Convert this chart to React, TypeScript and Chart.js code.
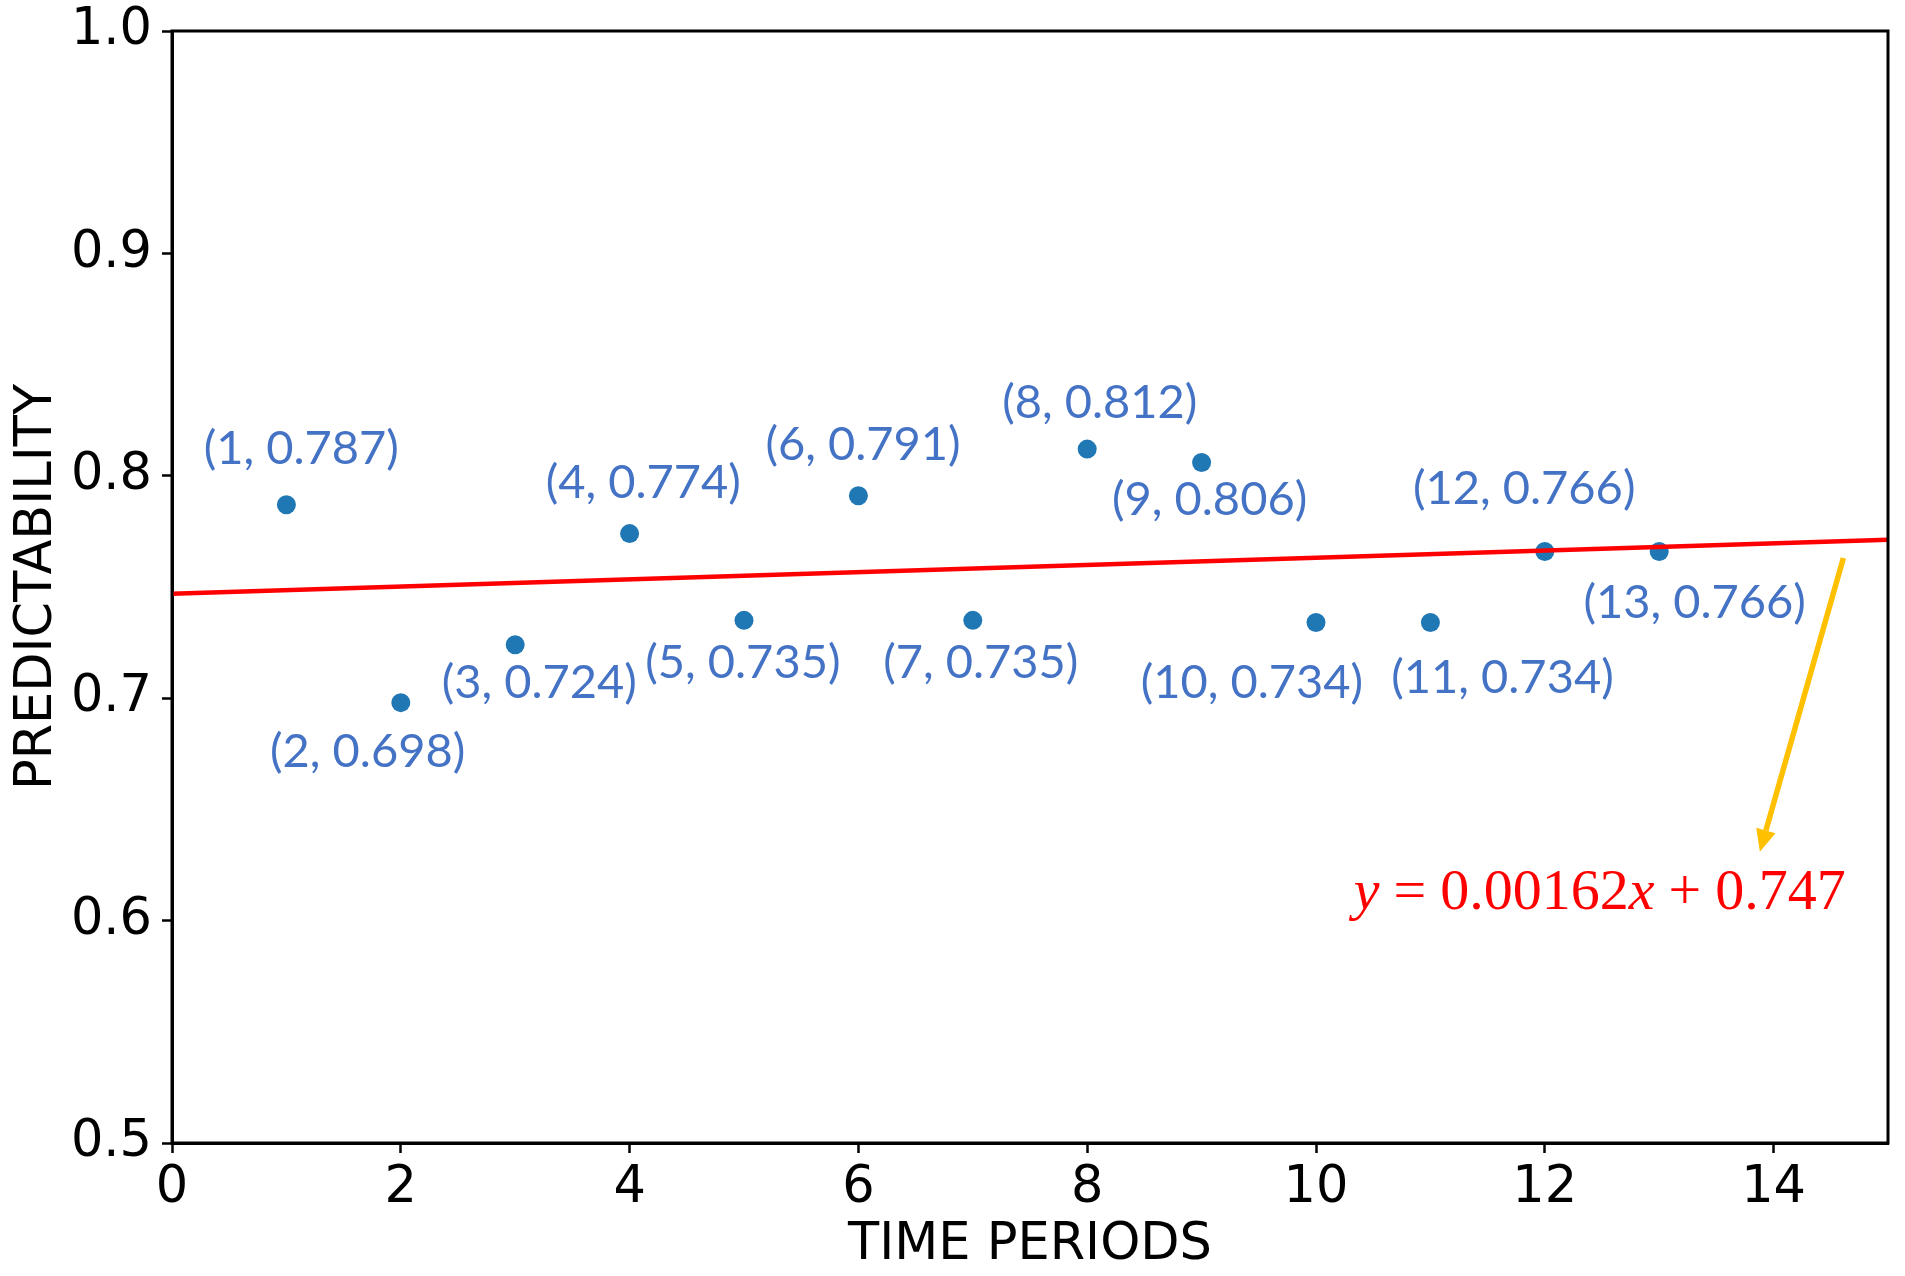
import React, { useEffect, useRef } from "react";
import { Chart, registerables } from "chart.js";

Chart.register(...registerables);

// ---- data ----
const periods = [1, 2, 3, 4, 5, 6, 7, 8, 9, 10, 11, 12, 13];
const predictability = [0.787, 0.698, 0.724, 0.774, 0.735, 0.791, 0.735, 0.812, 0.806, 0.734, 0.734, 0.766, 0.766];
// label anchor positions (data units, centre of text)
const labelX = [1.13, 1.71, 3.21, 4.12, 4.99, 6.04, 7.07, 8.11, 9.07, 9.44, 11.63, 11.82, 13.31];
const labelY = [0.812, 0.676, 0.707, 0.797, 0.716, 0.814, 0.716, 0.833, 0.789, 0.707, 0.709, 0.794, 0.743];
const fitSlope = 0.00162;
const fitIntercept = 0.747;
const fitXRange = [0, 15];
const xTicks = [0, 2, 4, 6, 8, 10, 12, 14];
const yTicks = [0.5, 0.6, 0.7, 0.8, 0.9, 1.0];
const xTitle = "TIME PERIODS";
const yTitle = "PREDICTABILITY";
const arrowFrom = [14.61, 0.763];
const arrowTo = [13.88, 0.631];
const equationAt = [12.48, 0.612];

export default function App() {
  const ref = useRef<HTMLCanvasElement | null>(null);

  useEffect(() => {
    const canvas = ref.current;
    if (!canvas) return;

    const annotations = {
      id: "annotations",
      afterDraw(chart: any) {
        const ctx = chart.ctx;
        const xs = chart.scales.x;
        const ys = chart.scales.y;
        const area = chart.chartArea;
        ctx.save();
        // frame
        ctx.strokeStyle = "#000";
        ctx.lineWidth = 3;
        ctx.strokeRect(area.left, area.top, area.right - area.left, area.bottom - area.top);

        // point labels
        ctx.fillStyle = "#4472C4";
        ctx.font = "47px Lato";
        ctx.textAlign = "center";
        ctx.textBaseline = "middle";
        periods.forEach((p, i) => {
          const txt = `(${p}, ${predictability[i].toFixed(3)})`;
          ctx.fillText(txt, xs.getPixelForValue(labelX[i]), ys.getPixelForValue(labelY[i]));
        });

        // arrow
        const x1 = xs.getPixelForValue(arrowFrom[0]);
        const y1 = ys.getPixelForValue(arrowFrom[1]);
        const x2 = xs.getPixelForValue(arrowTo[0]);
        const y2 = ys.getPixelForValue(arrowTo[1]);
        const ang = Math.atan2(y2 - y1, x2 - x1);
        const headLen = 22;
        const headW = 10;
        const bx = x2 - headLen * Math.cos(ang);
        const by = y2 - headLen * Math.sin(ang);
        ctx.strokeStyle = "#FFC000";
        ctx.fillStyle = "#FFC000";
        ctx.lineWidth = 5.5;
        ctx.beginPath();
        ctx.moveTo(x1, y1);
        ctx.lineTo(bx, by);
        ctx.stroke();
        ctx.beginPath();
        ctx.moveTo(x2, y2);
        ctx.lineTo(bx + headW * Math.sin(ang), by - headW * Math.cos(ang));
        ctx.lineTo(bx - headW * Math.sin(ang), by + headW * Math.cos(ang));
        ctx.closePath();
        ctx.fill();

        // equation
        const size = 58;
        const gap = 14;
        const parts: [string, boolean][] = [
          ["y", true],
          ["=", false],
          ["0.00162", false],
          ["x", true],
          ["+", false],
          ["0.747", false],
        ];
        const gapsAfter = [gap, gap, 0, gap, gap, 0];
        const fontOf = (it: boolean) => `${it ? "italic " : ""}${size}px 'Liberation Serif'`;
        let total = 0;
        parts.forEach(([t, it], i) => {
          ctx.font = fontOf(it);
          total += ctx.measureText(t).width + gapsAfter[i];
        });
        let cx = xs.getPixelForValue(equationAt[0]) - total / 2;
        const cy = ys.getPixelForValue(equationAt[1]);
        ctx.fillStyle = "#FF0000";
        ctx.textAlign = "left";
        ctx.textBaseline = "middle";
        parts.forEach(([t, it], i) => {
          ctx.font = fontOf(it);
          ctx.fillText(t, cx, cy);
          cx += ctx.measureText(t).width + gapsAfter[i];
        });

        // axis titles
        ctx.fillStyle = "#000";
        ctx.font = "51px 'DejaVu Sans'";
        ctx.textAlign = "center";
        ctx.textBaseline = "middle";
        ctx.fillText(xTitle, (area.left + area.right) / 2, area.bottom + 103);
        ctx.save();
        ctx.translate(area.left - 134, (area.top + area.bottom) / 2);
        ctx.rotate(-Math.PI / 2);
        ctx.fillText(yTitle, 0, 0);
        ctx.restore();
        ctx.restore();
      },
    };

    const fitPoints = fitXRange.map((x) => ({ x, y: fitSlope * x + fitIntercept }));
    const points = periods.map((x, i) => ({ x, y: predictability[i] }));

    const axisCommon = {
      type: "linear" as const,
      grid: {
        display: true,
        drawOnChartArea: false,
        drawTicks: true,
        tickLength: 10,
        tickWidth: 2.5,
        tickColor: "#000",
        color: "#000",
      },
      border: { display: true, color: "#000", width: 3 },
    };

    const chart = new Chart(canvas, {
      type: "scatter",
      data: {
        datasets: [
          {
            type: "line",
            data: fitPoints,
            borderColor: "#FF0000",
            borderWidth: 4.5,
            pointRadius: 0,
            fill: false,
            order: 1,
          } as any,
          {
            type: "scatter",
            data: points,
            backgroundColor: "#1F77B4",
            borderColor: "#1F77B4",
            borderWidth: 0,
            pointRadius: 9.5,
            order: 2,
          },
        ],
      },
      options: {
        responsive: false,
        animation: false,
        devicePixelRatio: 1,
        layout: { padding: { top: 31, right: 17, left: 0, bottom: 0 } },
        plugins: { legend: { display: false }, tooltip: { enabled: false } },
        scales: {
          x: {
            ...axisCommon,
            min: fitXRange[0],
            max: fitXRange[1],
            afterBuildTicks: (s: any) => {
              s.ticks = xTicks.map((v) => ({ value: v }));
            },
            afterFit: (s: any) => {
              s.height = 133;
              s.paddingLeft = 0;
              s.paddingRight = 0;
            },
            ticks: {
              color: "#000",
              font: { family: "DejaVu Sans", size: 51 },
              padding: 5,
              maxRotation: 0,
              minRotation: 0,
              autoSkip: false,
              callback: (v: any) => String(v),
            },
          },
          y: {
            ...axisCommon,
            min: yTicks[0],
            max: yTicks[yTicks.length - 1],
            afterBuildTicks: (s: any) => {
              s.ticks = yTicks.map((v) => ({ value: v }));
            },
            afterFit: (s: any) => {
              s.width = 172;
              s.paddingTop = 0;
              s.paddingBottom = 0;
            },
            ticks: {
              color: "#000",
              font: { family: "DejaVu Sans", size: 51 },
              padding: 10,
              autoSkip: false,
              callback: (v: any) => Number(v).toFixed(1),
            },
          },
        },
      } as any,
      plugins: [annotations],
    });

    return () => chart.destroy();
  }, []);

  return (
    <div style={{ position: "fixed", left: 0, top: 0, width: 1905, height: 1276, background: "#fff" }}>
      <canvas ref={ref} width={1905} height={1276} style={{ width: 1905, height: 1276 }} />
    </div>
  );
}
